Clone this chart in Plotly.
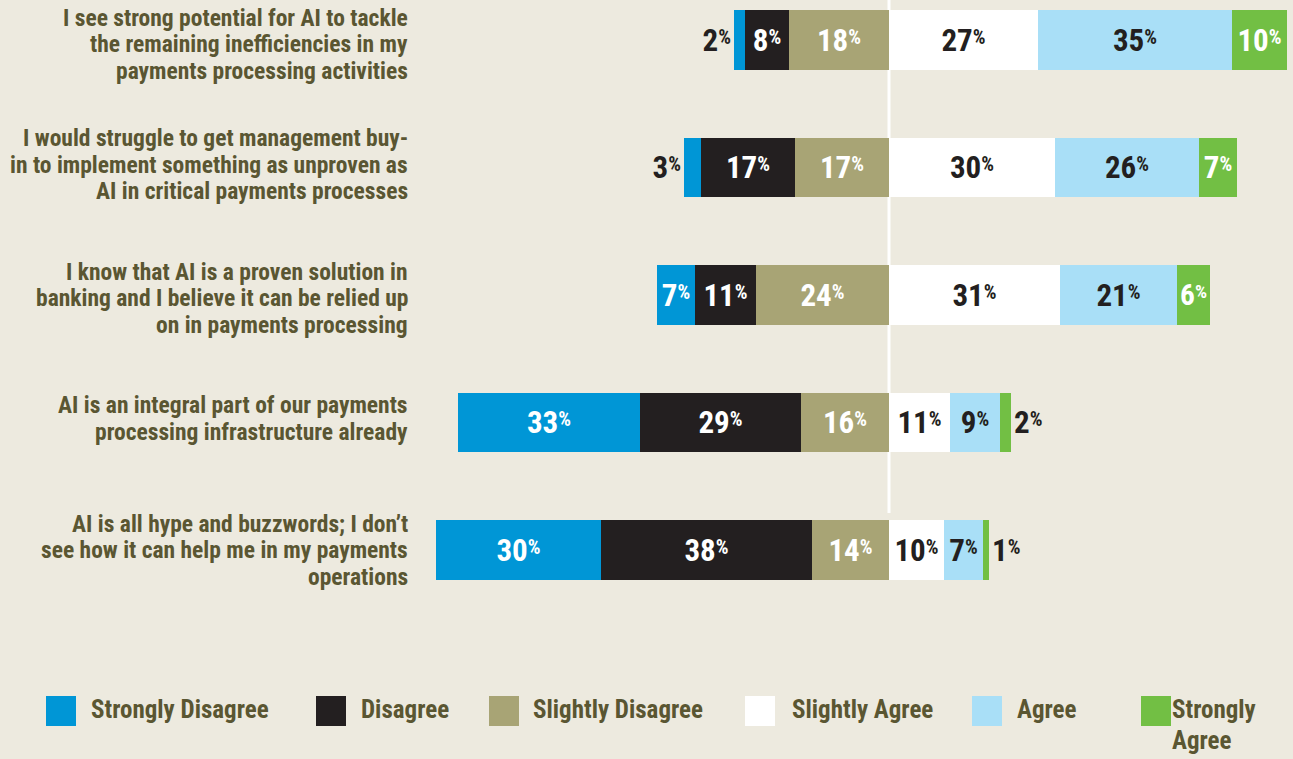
import plotly.graph_objects as go

statement_lines = [
    ["I see strong potential for AI to tackle", "the remaining inefficiencies in my", "payments processing activities"],
    ["I would struggle to get management buy-", "in to implement something as unproven as", "AI in critical payments processes"],
    ["I know that AI is a proven solution in", "banking and I believe it can be relied up", "on in payments processing"],
    ["AI is an integral part of our payments", "processing infrastructure already"],
    ["AI is all hype and buzzwords; I don’t", "see how it can help me in my payments", "operations"],
]
strongly_disagree = [2, 3, 7, 33, 30]
disagree = [8, 17, 11, 29, 38]
slightly_disagree = [18, 17, 24, 16, 14]
slightly_agree = [27, 30, 31, 11, 10]
agree = [35, 26, 21, 9, 7]
strongly_agree = [10, 7, 6, 2, 1]

FONT = "Roboto Condensed, Roboto, sans-serif"
BG = "#edeadf"
LABEL = "#5a5632"

rows = list(range(len(statement_lines)))

def lbl(v):
    return f"<b>{v}<span style='font-size:20px;baseline-shift:7px'>%</span></b>"

series = [
    ("Slightly Disagree", slightly_disagree, -1, "#a8a475", "white"),
    ("Disagree", disagree, -1, "#231f20", "white"),
    ("Strongly Disagree", strongly_disagree, -1, "#0096d6", "white"),
    ("Slightly Agree", slightly_agree, 1, "#ffffff", "#231f20"),
    ("Agree", agree, 1, "#a9dff7", "#231f20"),
    ("Strongly Agree", strongly_agree, 1, "#72bf44", "white"),
]

fig = go.Figure()
for name, vals, sign, color, tcol in series:
    positions = []
    for v in vals:
        if name in ("Strongly Disagree", "Strongly Agree") and v <= 3:
            positions.append("outside")
        else:
            positions.append("inside")
    fig.add_trace(go.Bar(
        name=name, y=rows, x=[sign * v for v in vals], orientation="h",
        marker=dict(color=color, line=dict(width=0)),
        width=0.47,
        text=[lbl(v) for v in vals], textposition=positions,
        insidetextanchor="middle",
        insidetextfont=dict(color=tcol, size=31, family=FONT),
        outsidetextfont=dict(color="#231f20", size=31, family=FONT),
        textangle=0, cliponaxis=False, showlegend=False,
        hoverinfo="skip",
    ))

W, H = 1293, 759
px_per = 5.53
center = 889
xmin = -center / px_per
xmax = (W - center) / px_per
spacing = 127.5
top = -40 / spacing
bottom = top + H / spacing

fig.update_layout(
    width=W, height=H, barmode="relative",
    paper_bgcolor=BG, plot_bgcolor=BG,
    margin=dict(l=0, r=0, t=0, b=0),
    xaxis=dict(range=[xmin, xmax], visible=False, fixedrange=True),
    yaxis=dict(range=[bottom, top], visible=False, fixedrange=True),
    font=dict(family=FONT, color=LABEL),
    bargap=0,
)

fig.add_shape(type="line", xref="x", yref="y", x0=0, x1=0, y0=top, y1=(513 - 40) / spacing,
              line=dict(color="white", width=3), layer="below")

LINE_H = 26.5
label_nudge = [4, -3, 3, -4, 0]  # pixel nudges of the label blocks
for i, lines in enumerate(statement_lines):
    n = len(lines)
    for j, line in enumerate(lines):
        off = (j - (n - 1) / 2) * LINE_H + label_nudge[i]
        fig.add_annotation(x=410 / W, xref="paper", y=i, yref="y", text=f"<b>{line}</b>",
                           showarrow=False, xanchor="right", yanchor="middle", align="right",
                           yshift=-off, font=dict(size=23.5, color=LABEL, family=FONT))

legend_items = [
    (["Strongly Disagree"], "#0096d6", 46, 89),
    (["Disagree"], "#231f20", 316, 359),
    (["Slightly Disagree"], "#a8a475", 489, 531),
    (["Slightly Agree"], "#ffffff", 745, 790),
    (["Agree"], "#a9dff7", 972, 1015),
    (["Strongly", "Agree"], "#72bf44", 1141, 1170),
]
for lines, color, sx, tx in legend_items:
    fig.add_shape(type="rect", xref="paper", yref="paper",
                  x0=sx / W, x1=(sx + 30) / W, y0=1 - 726 / H, y1=1 - 696 / H,
                  fillcolor=color, line=dict(width=0))
    for k, t in enumerate(lines):
        fig.add_annotation(x=tx / W, xref="paper", y=1 - (709 + 31 * k) / H, yref="paper",
                           text=f"<b>{t}</b>", showarrow=False, xanchor="left", yanchor="middle",
                           align="left", font=dict(size=25, color=LABEL, family=FONT))

fig.write_html("out.html", config={"displayModeBar": False},
               post_script="document.body.style.margin='0';document.body.style.background='#edeadf';")
